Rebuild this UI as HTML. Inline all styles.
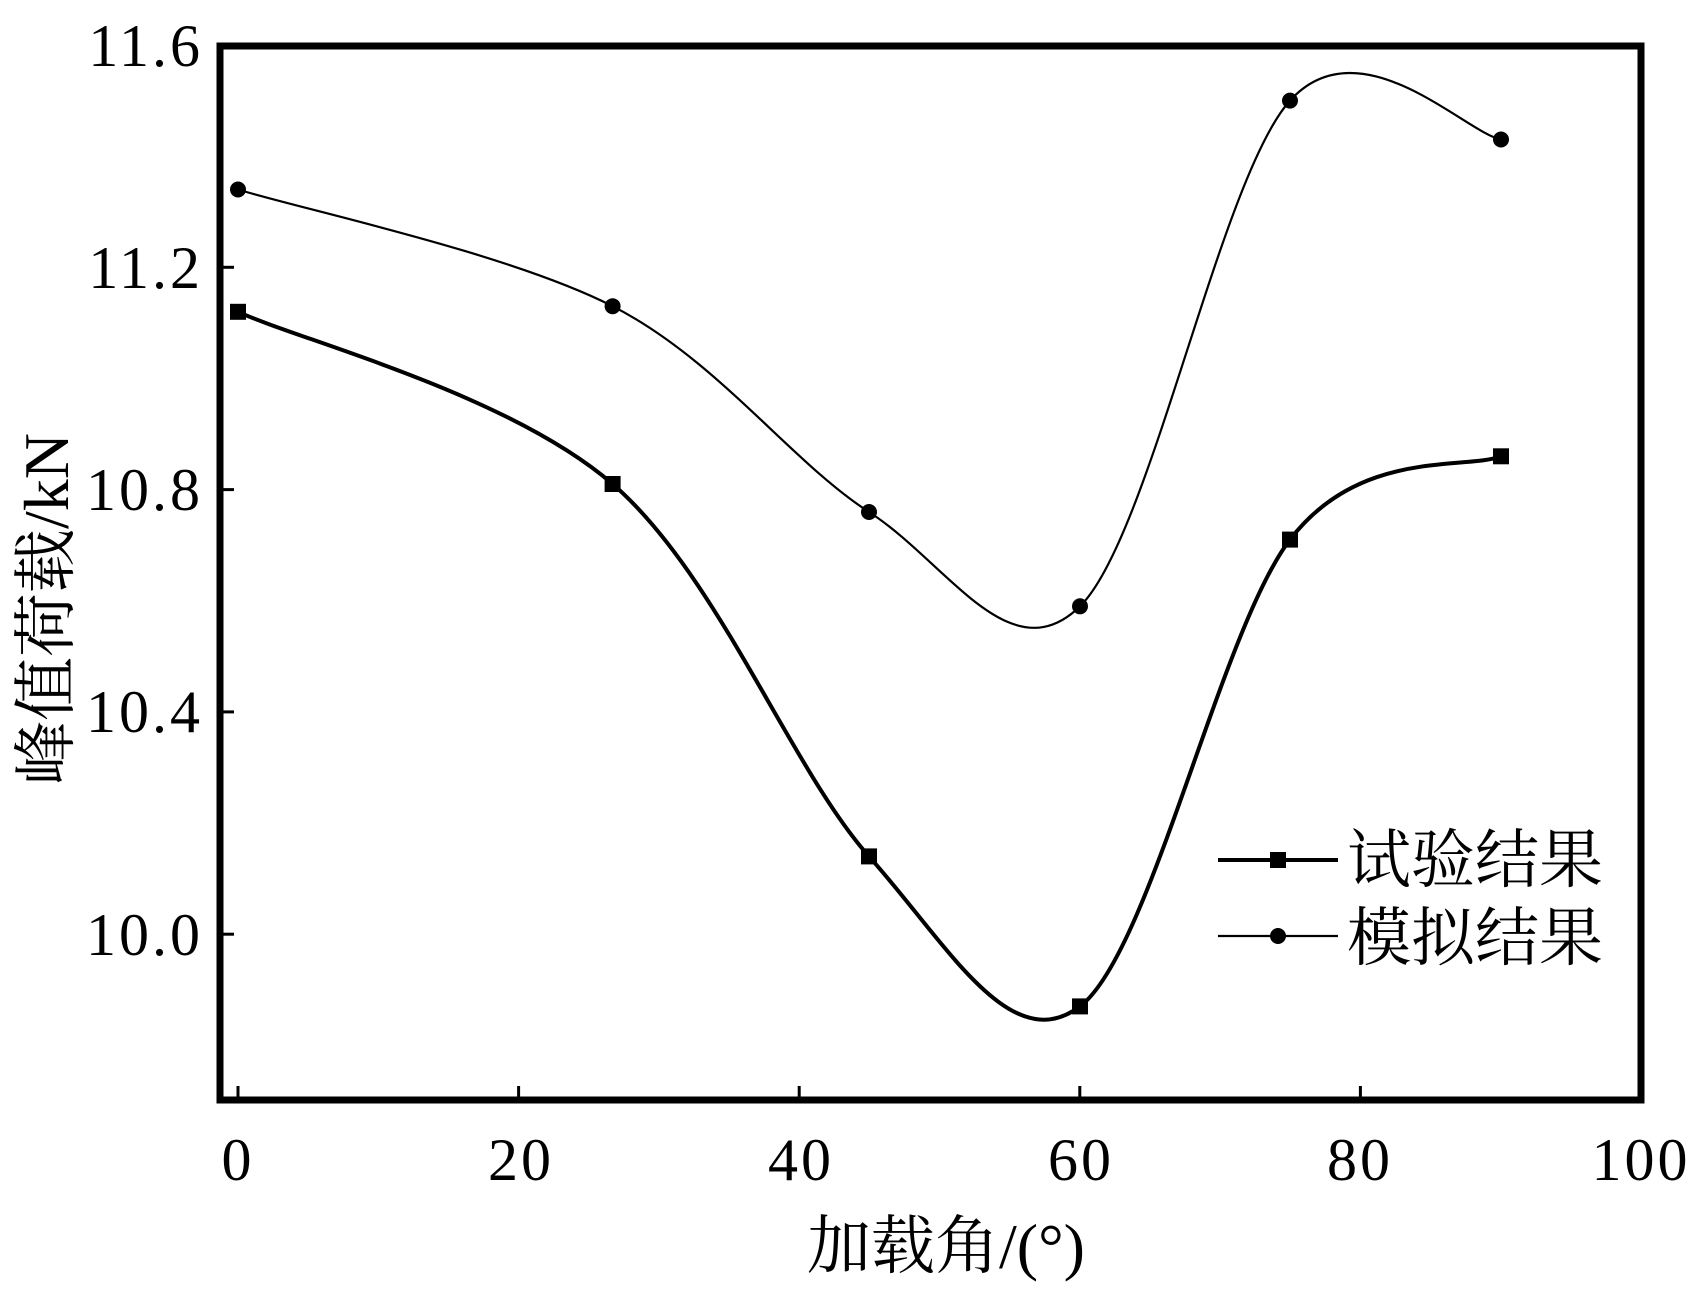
<!DOCTYPE html>
<html><head><meta charset="utf-8"><style>html,body{margin:0;padding:0;background:#fff}</style></head>
<body>
<svg width="1701" height="1286" viewBox="0 0 1701 1286" xmlns="http://www.w3.org/2000/svg" font-family="'Liberation Serif','Noto Serif CJK SC',serif">
<rect width="1701" height="1286" fill="#fff"/>
<g stroke="#000" stroke-width="3">
<line x1="238" y1="1100" x2="238" y2="1086"/>
<line x1="518.6" y1="1100" x2="518.6" y2="1086"/>
<line x1="799.2" y1="1100" x2="799.2" y2="1086"/>
<line x1="1079.8" y1="1100" x2="1079.8" y2="1086"/>
<line x1="1360.4" y1="1100" x2="1360.4" y2="1086"/>
<line x1="220" y1="267.3" x2="234" y2="267.3"/>
<line x1="220" y1="489.6" x2="234" y2="489.6"/>
<line x1="220" y1="711.9" x2="234" y2="711.9"/>
<line x1="220" y1="934.2" x2="234" y2="934.2"/>
</g>
<rect x="220" y="46" width="1421" height="1054" fill="none" stroke="#000" stroke-width="7"/>
<g font-size="60" fill="#000" letter-spacing="3">
<g text-anchor="end">
<text x="203" y="66">11.6</text>
<text x="203" y="288">11.2</text>
<text x="203" y="510">10.8</text>
<text x="203" y="732">10.4</text>
<text x="203" y="955">10.0</text>
</g>
<g text-anchor="middle">
<text x="238" y="1180">0</text>
<text x="521" y="1180">20</text>
<text x="801" y="1180">40</text>
<text x="1081" y="1180">60</text>
<text x="1360" y="1180">80</text>
<text x="1641" y="1180">100</text>
</g>
</g>
<text x="946" y="1268" font-size="64" text-anchor="middle">加载角/(°)</text>
<text transform="translate(68,609) rotate(-90)" font-size="64" text-anchor="middle">峰值荷载/kN</text>
<path d="M238,189.5 C300.4,209 507.4,252.5 612.6,306.2 C717.8,360 791.1,462 869,512 C946.9,562 1009.8,674.9 1080,606.3 C1150.2,537.7 1219.8,178.4 1290,100.6 C1360.2,22.8 1465.8,133 1501,139.5" fill="none" stroke="#000" stroke-width="2.2"/>
<path d="M238,311.8 C300.4,340.5 507.4,393.2 612.6,484 C717.8,574.8 791.1,769.3 869,856.4 C946.9,943.5 1010,1059.2 1080,1006.4 C1150.2,953.6 1219.8,631.3 1290,539.6 C1360.2,447.9 1465.8,470.2 1501,456.3" fill="none" stroke="#000" stroke-width="4"/>
<g fill="#000">
<circle cx="238" cy="189.5" r="8"/><circle cx="612.6" cy="306.2" r="8"/><circle cx="869" cy="512" r="8"/><circle cx="1080" cy="606.3" r="8"/><circle cx="1290" cy="100.6" r="8"/><circle cx="1501" cy="139.5" r="8"/>
<rect x="230" y="303.8" width="16" height="16"/><rect x="604.6" y="476" width="16" height="16"/><rect x="861" y="848.4" width="16" height="16"/><rect x="1072" y="998.4" width="16" height="16"/><rect x="1282" y="531.6" width="16" height="16"/><rect x="1493" y="448.3" width="16" height="16"/>
</g>
<line x1="1218" y1="860" x2="1338" y2="860" stroke="#000" stroke-width="4"/>
<rect x="1270" y="852" width="16" height="16"/>
<line x1="1218" y1="936" x2="1338" y2="936" stroke="#000" stroke-width="2.2"/>
<circle cx="1278" cy="936" r="8"/>
<text x="1347" y="882" font-size="64">试验结果</text>
<text x="1347" y="960" font-size="64">模拟结果</text>
</svg>
</body></html>
